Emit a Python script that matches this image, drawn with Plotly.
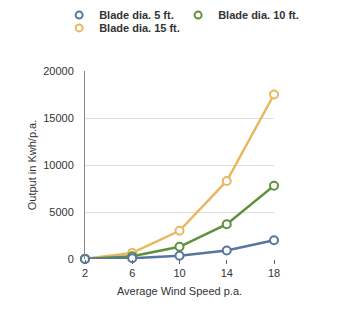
import plotly.graph_objects as go

speeds = [2, 6, 10, 14, 18]
series_names = ["Blade dia. 5 ft.", "Blade dia. 10 ft.", "Blade dia. 15 ft."]
out_5ft = [10, 80, 350, 900, 2000]
out_10ft = [10, 300, 1300, 3700, 7800]
out_15ft = [20, 650, 3000, 8300, 17500]
colors = ["#5676a0", "#5e913d", "#e9b75e"]
y_ticks = [0, 5000, 10000, 15000, 20000]

fig = go.Figure()
data = [out_5ft, out_10ft, out_15ft]
for idx in [2, 1, 0]:
    fig.add_trace(go.Scatter(
        x=speeds, y=data[idx], mode="lines+markers",
        line=dict(color=colors[idx], width=2.5),
        marker=dict(symbol="circle", size=8, color="white",
                    line=dict(color=colors[idx], width=2)),
        showlegend=False, cliponaxis=False, hoverinfo="skip"))
legend_ids = ["legend", "legend2", "legend3"]
for idx in range(3):
    fig.add_trace(go.Scatter(
        x=[None], y=[None], mode="markers", name=series_names[idx],
        legend=legend_ids[idx],
        marker=dict(symbol="circle", size=7, color="white",
                    line=dict(color=colors[idx], width=2))))

leg_font = dict(size=11, color="#333", weight="bold")
def leg(x, y):
    return dict(orientation="h", x=x, xref="container", xanchor="left",
                y=y, yref="container", yanchor="middle",
                font=leg_font, itemwidth=30, bgcolor="rgba(0,0,0,0)")

fig.update_layout(
    width=338, height=336,
    margin=dict(l=85, r=64, t=71, b=77),
    paper_bgcolor="white", plot_bgcolor="white",
    font=dict(family="Liberation Sans, Arial, sans-serif", size=11, color="#333"),
    legend=leg(0.175, 0.955),
    legend2=leg(0.527, 0.955),
    legend3=leg(0.175, 0.917),
    xaxis=dict(range=[2, 18], tickvals=speeds, showgrid=False, zeroline=False,
               showline=False, ticks="outside", ticklen=4, tickcolor="#666",
               title=dict(text="Average Wind Speed p.a.", font=dict(size=11), standoff=9)),
    yaxis=dict(range=[0, 20000], tickvals=y_ticks, showgrid=True, gridcolor="#ddd",
               zeroline=False, showline=True, linecolor="#888", linewidth=1,
               ticks="", tickformat="d", ticklabelstandoff=8,
               title=dict(text="Output in Kwh/p.a.", font=dict(size=11), standoff=4)),
)
fig.write_html("out.html")
